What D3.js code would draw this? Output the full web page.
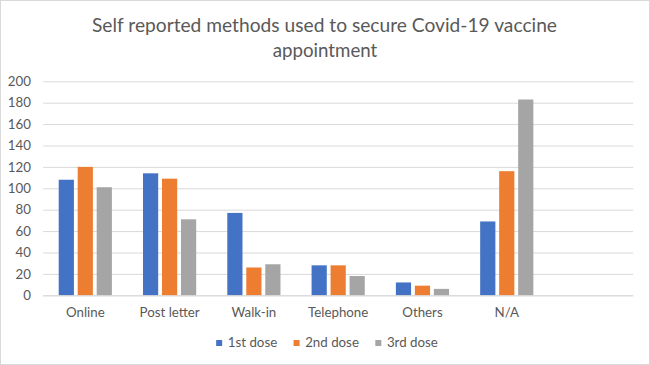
<!DOCTYPE html>
<html>
<head>
<meta charset="utf-8">
<script src="https://cdn.jsdelivr.net/npm/d3@7/dist/d3.min.js"></script>
<style>
  html, body { margin: 0; padding: 0; background: #fff; }
  svg { display: block; }
  text { font-family: Lato, "Open Sans", sans-serif; fill: #595959; }
</style>
</head>
<body>
<svg id="chart" width="650" height="365"></svg>
<script>
// ---- data ----
const titleLines = ["Self reported methods used to secure Covid-19 vaccine", "appointment"];
const categories = ["Online", "Post letter", "Walk-in", "Telephone", "Others", "N/A", ""];
const seriesNames = ["1st dose", "2nd dose", "3rd dose"];
const dose1 = [108, 114, 77, 28, 12, 69, null];
const dose2 = [120, 109, 26, 28, 9, 116, null];
const dose3 = [101, 71, 29, 18, 6, 183, null];
const yTicks = [0, 20, 40, 60, 80, 100, 120, 140, 160, 180, 200];
const colors = ["#4472C4", "#ED7D31", "#A5A5A5"];

const seriesValues = [dose1, dose2, dose3];

const W = 650, H = 365;
const svg = d3.select("#chart");

// border
svg.append("rect")
  .attr("x", 0.5).attr("y", 0.5)
  .attr("width", W - 1).attr("height", H - 1)
  .attr("fill", "#fff").attr("stroke", "#d9d9d9").attr("stroke-width", 1);

// title
const title = svg.append("g");
title.append("text")
  .attr("x", 324.5).attr("y", 31.7)
  .attr("text-anchor", "middle")
  .attr("font-size", 18.7)
  .attr("textLength", 465).attr("lengthAdjust", "spacingAndGlyphs")
  .text(titleLines[0]);
title.append("text")
  .attr("x", 325).attr("y", 56.7)
  .attr("text-anchor", "middle")
  .attr("font-size", 18.7)
  .text(titleLines[1]);

// scales
const plotLeft = 43.15, plotRight = 633.2;
const y = d3.scaleLinear().domain([0, 200]).range([295.3, 81.3]);
const x0 = d3.scaleBand().domain(categories).range([plotLeft, plotRight])
  .paddingInner(0.369).paddingOuter(0.1845);
const x1 = d3.scaleBand().domain(seriesNames).range([0, x0.bandwidth()])
  .paddingInner(0.2).paddingOuter(0);

// gridlines
svg.append("g")
  .attr("transform", `translate(${plotLeft},0)`)
  .call(d3.axisLeft(y).tickValues(yTicks).tickSize(-(plotRight - plotLeft)).tickFormat(""))
  .call(g => g.select(".domain").remove())
  .call(g => g.selectAll("line").attr("stroke", "#d9d9d9").attr("stroke-width", 1));

// y labels
svg.append("g")
  .attr("transform", `translate(31,0)`)
  .call(d3.axisLeft(y).tickValues(yTicks).tickSize(0).tickPadding(0))
  .call(g => g.select(".domain").remove())
  .call(g => g.selectAll("text").attr("font-size", 13.3).attr("font-family", "Lato, 'Open Sans', sans-serif").attr("fill", "#595959"));

// bars
const groups = svg.append("g").selectAll("g")
  .data(categories.map((c, i) => ({ c, i })))
  .join("g")
  .attr("transform", d => `translate(${x0(d.c)},0)`);

groups.selectAll("rect")
  .data(d => seriesNames.map((s, k) => ({ s, k, v: seriesValues[k][d.i] })).filter(e => e.v != null))
  .join("rect")
  .attr("x", e => x1(e.s))
  .attr("width", x1.bandwidth())
  .attr("y", e => y(e.v))
  .attr("height", e => y(0) - y(e.v))
  .attr("fill", e => colors[e.k]);

// x axis line + labels
svg.append("g")
  .attr("transform", `translate(0,${y(0)})`)
  .call(d3.axisBottom(x0).tickSize(0).tickPadding(0))
  .call(g => g.select(".domain").attr("stroke", "#d9d9d9").attr("d", `M${plotLeft},0.5H${plotRight}`))
  .call(g => g.selectAll("text").attr("font-size", 13.3).attr("font-family", "Lato, 'Open Sans', sans-serif")
    .attr("fill", "#595959").attr("dy", null).attr("y", 21.4));

// legend
const legend = svg.append("g");
const items = legend.selectAll("g").data(seriesNames).join("g");
items.append("rect").attr("width", 6).attr("height", 6).attr("y", 340)
  .attr("fill", (d, i) => colors[i]);
items.append("text").attr("y", 346.7).attr("font-size", 13.3).text(d => d);
let widths = [];
items.select("text").each(function () { widths.push(this.getComputedTextLength()); });
const keyGap = 11.6, itemGap = 16.4;
const total = widths.reduce((a, w) => a + keyGap + w, 0) + itemGap * (widths.length - 1);
let cx = 327 - total / 2;
items.each(function (d, i) {
  const g = d3.select(this);
  g.select("rect").attr("x", cx);
  g.select("text").attr("x", cx + keyGap);
  cx += keyGap + widths[i] + itemGap;
});
</script>
</body>
</html>
